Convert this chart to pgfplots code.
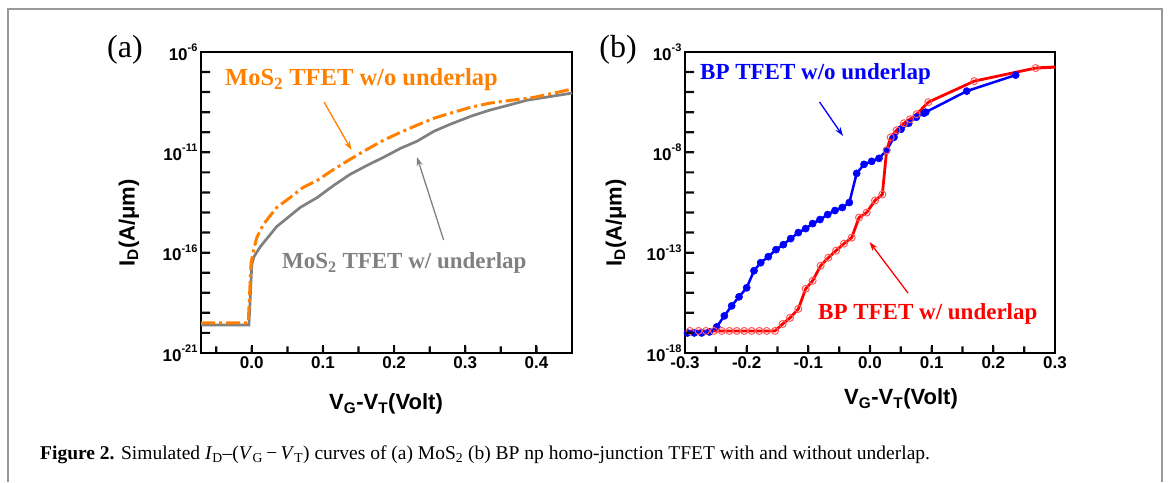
\documentclass[border=0pt]{standalone}
\usepackage{pgfplots}
\pgfplotsset{compat=1.18}
\usepackage{fontspec}
\setmainfont{Liberation Serif}
\newfontfamily\arial{Liberation Sans}
\usetikzlibrary{arrows.meta}
\definecolor{orng}{RGB}{255,128,0}
\definecolor{gry}{RGB}{128,128,128}
\definecolor{bl}{RGB}{0,0,255}
\definecolor{rd}{RGB}{255,0,0}
\definecolor{rdlt}{RGB}{255,90,90}
\definecolor{tickc}{RGB}{12,12,12}
\newcommand{\dec}[1]{10\raisebox{0.5em}{\fontsize{11}{11}\selectfont -#1}}
\begin{document}
\begin{tikzpicture}
\begin{scope}[x=1pt,y=1pt]
\useasboundingbox (0,0) rectangle (1170,482);
\draw[gray!80, line width=1.8pt] (8,0) -- (8,473) -- (1162,473) -- (1162,0);
\end{scope}

% (a) MoS2
\begin{axis}[ymode=log, scale only axis, height=301pt, width=371pt,
  at={(201pt,129pt)}, anchor=south west,
  axis line style={line width=2.7pt},
  tick align=inside, xtick pos=bottom, ytick pos=left,
  major tick length=8pt, minor tick length=8pt,
  tick style={draw=black, line width=2pt},
  ticklabel style={font=\arial\bfseries\fontsize{17}{17}\selectfont},
  xmin=-0.0714, xmax=0.45, ymin=1e-21, ymax=1e-6,
  xtick={0,0.1,0.2,0.3,0.4}, xticklabels={0.0,0.1,0.2,0.3,0.4},
  ytick={1e-21,1e-16,1e-11,1e-6}, yticklabels={\dec{21},\dec{16},\dec{11},\dec{6}}]
\addplot[gry, line width=2.7pt] coordinates {
(-0.0714,2.512e-20)(-0.004,2.512e-20)(0.000,2.512e-17)(0.003,6.310e-17)(0.012,1.995e-16)
(0.035,1.995e-15)(0.068,1.778e-14)(0.092,5.623e-14)(0.115,2.239e-13)(0.138,7.943e-13)
(0.162,2.239e-12)(0.185,5.623e-12)(0.209,1.585e-11)(0.232,3.548e-11)(0.256,1.122e-10)
(0.279,2.512e-10)(0.308,6.310e-10)(0.334,1.259e-9)(0.361,2.239e-9)(0.387,3.981e-9)
(0.414,5.623e-9)(0.45,8.913e-9)};
\addplot[orng, line width=3pt, dash pattern=on 14pt off 4pt on 3pt off 4pt] coordinates {
(-0.0714,3.162e-20)(-0.005,3.162e-20)(-0.001,3.162e-17)(0.003,1.585e-16)(0.007,5.623e-16)
(0.016,2.512e-15)(0.035,1.778e-14)(0.054,5.623e-14)(0.072,1.778e-13)(0.092,3.981e-13)
(0.115,1.413e-12)(0.138,4.467e-12)(0.162,1.413e-11)(0.185,3.981e-11)(0.209,1e-10)
(0.232,2.239e-10)(0.256,5.012e-10)(0.279,8.913e-10)(0.308,1.778e-9)(0.334,2.818e-9)
(0.366,3.981e-9)(0.398,5.623e-9)(0.45,1.413e-8)};
\end{axis}

% (b) BP
\begin{axis}[ymode=log, scale only axis, height=301pt, width=370pt,
  at={(685pt,129pt)}, anchor=south west,
  axis line style={line width=2.7pt},
  tick align=inside, xtick pos=bottom, ytick pos=left,
  major tick length=8pt, minor tick length=8pt,
  tick style={draw=black, line width=2pt},
  ticklabel style={font=\arial\bfseries\fontsize{17}{17}\selectfont},
  xmin=-0.3, xmax=0.3, ymin=1e-18, ymax=1e-3,
  xtick={-0.3,-0.2,-0.1,0,0.1,0.2,0.3}, xticklabels={-0.3,-0.2,-0.1,0.0,0.1,0.2,0.3},
  ytick={1e-18,1e-13,1e-8,1e-3}, yticklabels={\dec{18},\dec{13},\dec{8},\dec{3}}]
\addplot[bl, line width=2.5pt, mark=*, mark size=3.6pt, mark options={solid, fill=bl, draw=bl, line width=0.5pt}] coordinates {
(-0.296,1e-17)(-0.285,1e-17)(-0.273,1e-17)(-0.2605,1.122e-17)(-0.2486,1.995e-17)
(-0.2362,7.079e-17)(-0.2243,2.239e-16)(-0.2124,6.310e-16)(-0.2,1.778e-15)(-0.1881,1.259e-14)
(-0.1773,3.162e-14)(-0.1649,6.310e-14)(-0.1524,1.413e-13)(-0.1405,2.512e-13)(-0.1286,5.012e-13)
(-0.1162,1e-12)(-0.1043,1.585e-12)(-0.093,2.818e-12)(-0.0811,4.467e-12)(-0.0686,7.943e-12)
(-0.0568,1.259e-11)(-0.0449,1.778e-11)(-0.0335,3.162e-11)(-0.0216,8.913e-10)(-0.0097,2.512e-9)
(0.0027,3.548e-9)(0.0146,5.012e-9)(0.027,1.259e-8)(0.0389,5.623e-8)(0.0503,1.413e-7)
(0.0627,2.818e-7)(0.0751,5.623e-7)(0.0876,8.913e-7)(0.0903,1e-6)(0.1568,1.122e-5)
(0.2362,7.079e-5)};
\addplot[rd, line width=3pt] coordinates {(0.2686,1.585e-4)(0.3,1.778e-4)};
\addplot[rd, line width=2.8pt, mark=o, mark size=3.5pt, mark options={solid, fill=white, draw=rdlt, line width=1pt}] coordinates {
(-0.292,1.259e-17)(-0.278,1.259e-17)(-0.266,1.259e-17)(-0.253,1.259e-17)(-0.2405,1.259e-17)
(-0.228,1.259e-17)(-0.216,1.259e-17)(-0.204,1.259e-17)(-0.192,1.259e-17)(-0.1795,1.259e-17)
(-0.1676,1.259e-17)(-0.154,1.259e-17)(-0.1416,2.818e-17)(-0.1297,5.623e-17)(-0.1162,1.585e-16)
(-0.1043,1.585e-15)(-0.093,3.981e-15)(-0.08,2.239e-14)(-0.0676,5.623e-14)(-0.0551,1.259e-13)
(-0.0422,2.818e-13)(-0.0297,5.623e-13)(-0.0178,5.623e-12)(-0.0054,1e-11)(0.0081,3.981e-11)
(0.02,7.943e-11)(0.027,1.259e-8)(0.0335,5.623e-8)(0.0432,1.259e-7)(0.0551,2.818e-7)
(0.0649,4.467e-7)(0.0757,7.943e-7)(0.0946,3.162e-6)(0.1692,3.548e-5)(0.2686,1.585e-4)};
\end{axis}

\begin{scope}[x=1pt,y=1pt]
% tick marks as small filled bars: one per decade on y, every 0.05 V on x
\fill[tickc] (201,148) rectangle (210,150.2) (201,168.1) rectangle (210,170.3)
  (201,188.1) rectangle (210,190.3) (201,208.2) rectangle (210,210.4)
  (201,228.2) rectangle (210,230.4) (201,248.3) rectangle (210,250.5)
  (201,268.4) rectangle (210,270.6) (201,288.4) rectangle (210,290.6)
  (201,308.5) rectangle (210,310.7) (201,328.6) rectangle (210,330.8)
  (201,348.6) rectangle (210,350.8) (201,368.7) rectangle (210,370.9)
  (201,388.8) rectangle (210,391) (201,408.8) rectangle (210,411);
\fill[tickc] (685,148) rectangle (694,150.2) (685,168.1) rectangle (694,170.3)
  (685,188.1) rectangle (694,190.3) (685,208.2) rectangle (694,210.4)
  (685,228.2) rectangle (694,230.4) (685,248.3) rectangle (694,250.5)
  (685,268.4) rectangle (694,270.6) (685,288.4) rectangle (694,290.6)
  (685,308.5) rectangle (694,310.7) (685,328.6) rectangle (694,330.8)
  (685,348.6) rectangle (694,350.8) (685,368.7) rectangle (694,370.9)
  (685,388.8) rectangle (694,391) (685,408.8) rectangle (694,411);
\fill[tickc] (215.1,129) rectangle (217.3,135.5) (250.7,129) rectangle (252.9,135.5)
  (286.3,129) rectangle (288.5,135.5) (321.9,129) rectangle (324.1,135.5)
  (357.4,129) rectangle (359.6,135.5) (393,129) rectangle (395.2,135.5)
  (428.6,129) rectangle (430.8,135.5) (464.2,129) rectangle (466.4,135.5)
  (499.7,129) rectangle (501.9,135.5) (535.3,129) rectangle (537.5,135.5);
\fill[tickc] (714.7,129) rectangle (716.9,135.5) (745.6,129) rectangle (747.8,135.5)
  (776.4,129) rectangle (778.6,135.5) (807.2,129) rectangle (809.4,135.5)
  (838.1,129) rectangle (840.3,135.5) (868.9,129) rectangle (871.1,135.5)
  (899.7,129) rectangle (901.9,135.5) (930.6,129) rectangle (932.8,135.5)
  (961.4,129) rectangle (963.6,135.5) (992.2,129) rectangle (994.4,135.5)
  (1023.1,129) rectangle (1025.3,135.5);

% panel letters and annotations
\node[font=\fontsize{32}{32}\selectfont] at (125,432) {(a)};
\node[font=\fontsize{32}{32}\selectfont] at (618,432) {(b)};
\node[anchor=base west, text=orng, font=\bfseries\fontsize{24.5}{24.5}\selectfont, inner sep=0] at (225,396) {MoS\textsubscript{2} TFET w/o underlap};
\node[anchor=base west, text=gry, font=\bfseries\fontsize{23}{23}\selectfont, inner sep=0] at (282,213) {MoS\textsubscript{2} TFET w/ underlap};
\node[anchor=base west, text=bl, font=\bfseries\fontsize{23}{23}\selectfont, inner sep=0] at (700,402) {BP TFET w/o underlap};
\node[anchor=base west, text=rd, font=\bfseries\fontsize{23}{23}\selectfont, inner sep=0] at (818,162) {BP TFET w/ underlap};
\draw[orng, line width=1.3pt, -{Stealth[length=9pt,width=6pt]}] (324,380) -- (351.5,332);
\draw[gry, line width=1.3pt, -{Stealth[length=9pt,width=6pt]}] (443.6,242) -- (417,325);
\draw[bl, line width=1.3pt, -{Stealth[length=9pt,width=6pt]}] (819.5,380) -- (843,346);
\draw[rd, line width=1.3pt, -{Stealth[length=9pt,width=6pt]}] (908,189) -- (869.5,240);

% axis titles
\node[rotate=90, font=\arial\bfseries\fontsize{22}{22}\selectfont] at (129,259) {I\textsubscript{D}(A/μm)};
\node[rotate=90, font=\arial\bfseries\fontsize{22}{22}\selectfont] at (616,259) {I\textsubscript{D}(A/μm)};
\node[anchor=base, font=\arial\bfseries\fontsize{22}{22}\selectfont] at (386,72) {V\textsubscript{G}-V\textsubscript{T}(Volt)};
\node[anchor=base, font=\arial\bfseries\fontsize{22}{22}\selectfont] at (901,77) {V\textsubscript{G}-V\textsubscript{T}(Volt)};

% caption
\node[anchor=base west, inner sep=0, font=\fontsize{19.5}{19.5}\selectfont] at (40,23) {\textbf{Figure 2.} Simulated \textit{I}\textsubscript{D}–(\textit{V}\textsubscript{G}\,−\,\textit{V}\textsubscript{T}) curves of (a) MoS\textsubscript{2} (b) BP np homo-junction TFET with and without underlap.};
\end{scope}
\end{tikzpicture}
\end{document}
